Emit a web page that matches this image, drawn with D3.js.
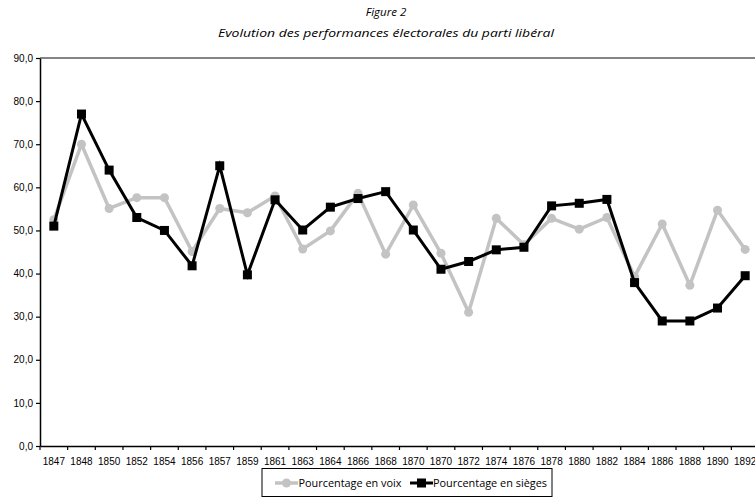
<!DOCTYPE html>
<html><head><meta charset="utf-8">
<script src="https://cdn.jsdelivr.net/npm/d3@7"></script>
<style>html,body{margin:0;padding:0;background:#fff;overflow:hidden}</style>
</head><body>
<script>
const years = ["1847","1848","1850","1852","1854","1856","1857","1859","1861","1863","1864","1866","1868","1870","1870","1872","1874","1876","1878","1880","1882","1884","1886","1888","1890","1892"];
const voix = [52.5,70.0,55.1,57.6,57.6,45.1,55.1,54.1,58.0,45.7,49.9,58.6,44.5,55.9,44.7,31.0,52.8,46.7,52.8,50.3,53.0,39.3,51.5,37.3,54.7,45.6];
const sieges = [51.0,77.0,64.0,53.0,50.0,41.8,65.0,39.7,57.1,50.1,55.4,57.4,59.0,50.1,41.0,42.8,45.5,46.1,55.7,56.3,57.2,37.9,29.0,29.0,32.0,39.5];
const yTicks = [0,10,20,30,40,50,60,70,80,90];
const seriesNames = ["Pourcentage en voix","Pourcentage en sièges"];
const titleLines = ["Figure 2","Evolution des performances électorales du parti libéral"];

(function(){
const W=755,H=497;
const mL=40, mR=759, mT=58, mB=446;
const svg=d3.select("body").append("svg").attr("width",W).attr("height",H);

const idx = years.map((d,i)=>i);
const x = d3.scaleBand().domain(idx).range([mL,mR]);
const y = d3.scaleLinear().domain([0,90]).range([mB,mT]);

// titles
svg.append("text").attr("x",386).attr("y",16).attr("text-anchor","middle")
  .attr("font-family","Open Sans").attr("font-style","italic").attr("font-size",11.5).text(titleLines[0]);
svg.append("text").attr("x",386).attr("y",37).attr("text-anchor","middle")
  .attr("font-family","Open Sans").attr("font-style","italic").attr("font-size",11.5)
  .attr("textLength",336).attr("lengthAdjust","spacingAndGlyphs").text(titleLines[1]);

// top gridline
svg.append("line").attr("x1",mL).attr("x2",mR).attr("y1",y(90)).attr("y2",y(90))
  .attr("stroke","#858585").attr("stroke-width",2);

// y axis
const ya = svg.append("g").attr("transform",`translate(${mL},0)`)
  .call(d3.axisLeft(y).tickValues(yTicks).tickSize(4).tickSizeOuter(0).tickFormat(d=>d3.format(".1f")(d).replace(".",",")));
ya.select(".domain").attr("stroke","#000").attr("stroke-width",1.5);
ya.selectAll(".tick line").attr("stroke","#000").attr("stroke-width",1.2);
ya.selectAll("text").attr("font-family","Liberation Sans").attr("font-size",10).attr("fill","#000").attr("x",-7);

// x axis
const xa = svg.append("g").attr("transform",`translate(0,${mB})`)
  .call(d3.axisBottom(x).tickSize(0).tickFormat(i=>years[i]));
xa.select(".domain").attr("stroke","#000").attr("stroke-width",1.5);
xa.selectAll("text").attr("font-family","Liberation Sans").attr("font-size",10).attr("fill","#000").attr("dy","0").attr("y",19);
// boundary ticks
xa.selectAll(".btick").data(idx.concat([years.length])).enter().append("line")
  .attr("x1",i=>mL+i*x.step()).attr("x2",i=>mL+i*x.step()).attr("y1",0).attr("y2",4)
  .attr("stroke","#000").attr("stroke-width",1.2);

const cx = i=>x(i)+x.bandwidth()/2;
const line = d3.line().x((d,i)=>cx(i)).y(d=>y(d));

svg.append("path").datum(voix).attr("d",line).attr("fill","none").attr("stroke","#c3c3c3").attr("stroke-width",3.5).attr("stroke-linejoin","round");
svg.selectAll(".cv").data(voix).enter().append("circle").attr("cx",(d,i)=>cx(i)).attr("cy",d=>y(d)).attr("r",4.5).attr("fill","#c3c3c3");

svg.append("path").datum(sieges).attr("d",line).attr("fill","none").attr("stroke","#000").attr("stroke-width",3).attr("stroke-linejoin","miter");
svg.selectAll(".sq").data(sieges).enter().append("rect").attr("x",(d,i)=>cx(i)-4.5).attr("y",d=>y(d)-4.5).attr("width",9).attr("height",9).attr("fill","#000");

// legend
const lg = svg.append("g");
lg.append("rect").attr("x",262).attr("y",468.5).attr("width",290).attr("height",28).attr("fill","#fff").attr("stroke","#000").attr("stroke-width",1);
lg.append("line").attr("x1",275).attr("x2",298).attr("y1",483).attr("y2",483).attr("stroke","#c3c3c3").attr("stroke-width",3.5);
lg.append("circle").attr("cx",286.5).attr("cy",483).attr("r",4.5).attr("fill","#c3c3c3");
lg.append("text").attr("x",298.5).attr("y",487).attr("font-family","Open Sans").attr("font-size",11.5)
  .attr("textLength",103).attr("lengthAdjust","spacingAndGlyphs").text(seriesNames[0]);
lg.append("line").attr("x1",410).attr("x2",433).attr("y1",483).attr("y2",483).attr("stroke","#000").attr("stroke-width",3);
lg.append("rect").attr("x",417).attr("y",478.5).attr("width",9).attr("height",9).attr("fill","#000");
lg.append("text").attr("x",433).attr("y",487).attr("font-family","Open Sans").attr("font-size",11.5)
  .attr("textLength",114).attr("lengthAdjust","spacingAndGlyphs").text(seriesNames[1]);
})();
</script>
</body></html>
